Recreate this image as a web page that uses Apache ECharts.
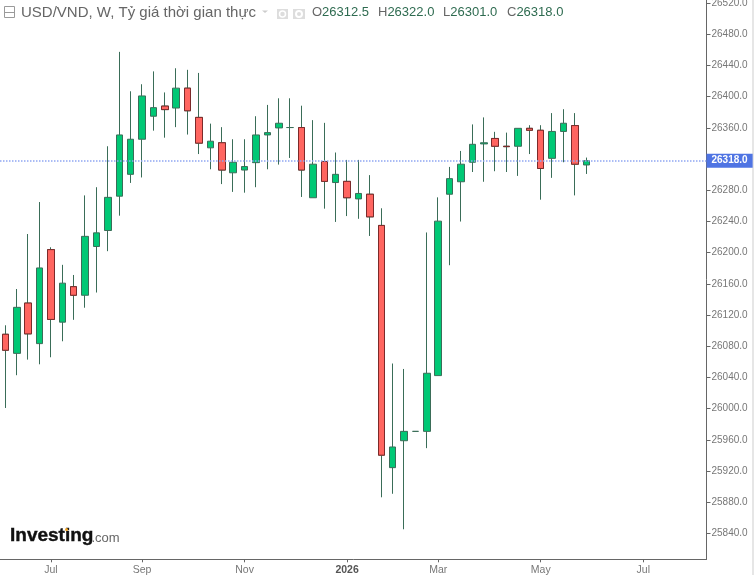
<!DOCTYPE html>
<html>
<head>
<meta charset="utf-8">
<style>html,body{margin:0;padding:0;background:#fff}#chart{width:754px;height:575px}</style>
<script src="https://cdn.jsdelivr.net/npm/echarts@6/dist/echarts.min.js"></script>
</head>
<body>
<div id="chart"></div>
<script>
// Weekly USD/VND candles, oldest first
const opens = [26095.5,26071,26135.5,26083.5,26204,26111,26156.5,26145.5,26208,26228.5,26272.5,26300.5,26345.5,26375,26388,26385.5,26411,26373.5,26334.5,26341,26302.5,26306,26315.5,26351,26360,26360.5,26360.5,26270.5,26317,26290,26291.5,26269,26275,26235,25924.5,25959,25971,25971,26042.5,26275,26291,26316,26339.5,26346.5,26336.5,26336.5,26359.5,26357,26321,26355.5,26363,26312.5];
const closes = [26075,26130,26096,26180.5,26114.5,26161,26145.5,26221,26225.5,26271,26351,26345.5,26401,26386,26383.5,26411,26382,26340.5,26343,26306,26316,26310.5,26351,26354,26366,26360.5,26306,26313.5,26291.5,26300.5,26270.5,26276,26246,25940.5,25951,25971,25971,26045.5,26240.5,26295,26313.5,26339,26341,26336.5,26336,26359.5,26357,26308,26355.5,26366,26313.5,26318];
const lows = [26001,26043,26063,26057,26066,26086.5,26114,26129.5,26149,26202,26247.5,26289.5,26296.5,26356.5,26347.5,26361,26351.5,26326.5,26307,26288,26278,26277,26284,26307,26313,26321.5,26271.5,26270.5,26256.5,26239.5,26247,26243.5,26221.5,25886.5,25891,25845.5,25971,25949.5,26042.5,26184,26240,26303.5,26291,26304.5,26303.5,26298.5,26326.5,26268,26296,26316,26273.5,26301];
const highs = [26107,26153.5,26224,26265,26207,26184.5,26171.5,26273.5,26284,26336.5,26457.5,26407,26416,26432.5,26405.5,26436.5,26434.5,26430.5,26365.5,26361,26345.5,26345.5,26375,26389.5,26398,26398,26388.5,26370,26366.5,26328.5,26319,26319,26299.5,26257,26058,26051,25971,26226,26271,26310,26330.5,26364.5,26373.5,26355,26354,26359.5,26363.5,26363.5,26379,26384,26379,26322];

// Month marks along the time axis, given as candle positions
const monthPositions = [4, 12, 21, 30, 38, 47, 56];
const monthLabels = ['Jul', 'Sep', 'Nov', '2026', 'Mar', 'May', 'Jul'];
const slotCount = 62;

const priceTicks = [26520,26480,26440,26400,26360,26280,26240,26200,26160,26120,26080,26040,26000,25960,25920,25880,25840];
const priceMin = 25807;
const priceMax = 26524;

const titleText = 'USD/VND, W, Tỷ giá thời gian thực';
const quoteLabels = ['O', 'H', 'L', 'C'];
const quoteValues = ['26312.5', '26322.0', '26301.0', '26318.0'];

const UP = '#00c875', DOWN = '#ff6560', WICK = '#3a6d58', DOWN_EDGE = '#7c2a2a';
const FONT = '"Liberation Sans", Arial, sans-serif';

const categories = [];
for (let i = 0; i < slotCount; i++) {
  const m = monthPositions.indexOf(i);
  categories.push(m >= 0 ? monthLabels[m] : '');
}
const candles = opens.map((o, i) => [o, closes[i], lows[i], highs[i]]);
// Falling bodies are redrawn on top so their outline can differ from the wicks
const downBodies = opens.map((o, i) => {
  const c = closes[i];
  return c < o ? [o, c, c, o] : '-';
});
const hasLabel = (i, v) => v !== '';
const last = closes[closes.length - 1];

const chart = echarts.init(document.getElementById('chart'), null, { renderer: 'canvas' });
chart.setOption({
  animation: false,
  backgroundColor: '#fff',
  grid: [
    { left: -0.3, width: 706.2, top: 0, height: 559.3, outerBoundsMode: 'none' },
    { left: 0, width: 706.5, top: 0, height: 559.3, outerBoundsMode: 'none' }
  ],
  xAxis: [
    {
      type: 'category', gridIndex: 0, data: categories, boundaryGap: true,
      axisLine: { show: false },
      axisTick: { show: true, alignWithLabel: true, interval: hasLabel, length: 3, lineStyle: { color: '#666' } },
      axisLabel: {
        interval: hasLabel, hideOverlap: false, margin: 5, fontFamily: FONT, fontSize: 10.5, color: '#777',
        formatter: v => v === '2026' ? '{y|2026}' : v,
        rich: { y: { fontFamily: FONT, fontSize: 10.5, fontWeight: 'bold', color: '#555' } }
      },
      splitLine: { show: false }
    },
    {
      type: 'value', gridIndex: 1, min: 0, max: 1,
      axisLine: { show: true, onZero: false, lineStyle: { color: '#666', width: 1 } },
      axisTick: { show: false }, axisLabel: { show: false }, splitLine: { show: false }
    }
  ],
  yAxis: [
    { type: 'value', gridIndex: 0, min: priceMin, max: priceMax, show: false, scale: true },
    {
      type: 'value', gridIndex: 1, min: priceMin, max: priceMax, position: 'right', scale: true,
      axisLine: { show: true, onZero: false, lineStyle: { color: '#666', width: 1 } },
      axisTick: { show: true, length: 4, customValues: priceTicks, lineStyle: { color: '#666' } },
      axisLabel: {
        customValues: priceTicks, margin: 5, fontFamily: FONT, fontSize: 10, color: '#777', padding: [2, 0, 0, 0],
        formatter: v => Number(v).toFixed(1)
      },
      splitLine: { show: false }
    }
  ],
  series: [
    {
      name: 'USD/VND', type: 'candlestick', xAxisIndex: 0, yAxisIndex: 0, data: candles, barWidth: 7,
      itemStyle: { color: UP, color0: DOWN, borderColor: WICK, borderColor0: WICK, borderWidth: 1 }
    },
    {
      name: 'Falling', type: 'candlestick', xAxisIndex: 0, yAxisIndex: 0, data: downBodies, barWidth: 7,
      itemStyle: { color: UP, color0: DOWN, borderColor: DOWN_EDGE, borderColor0: DOWN_EDGE, borderWidth: 1 }
    },
    {
      name: 'Last price', type: 'line', xAxisIndex: 1, yAxisIndex: 1, data: [], z: 5,
      markLine: {
        silent: true, symbol: 'none', animation: false,
        lineStyle: { type: 'dotted', color: '#8fa6f2', width: 1.5, opacity: 1 },
        label: {
          position: 'end', distance: 0, formatter: last.toFixed(1), fontFamily: FONT, fontSize: 10, fontWeight: 'bold',
          color: '#fff', backgroundColor: '#4f74e3', padding: [2, 5, 1, 5], lineHeight: 11
        },
        data: [{ yAxis: last }]
      }
    }
  ],
  graphic: [
    // Collapse box beside the title
    { type: 'rect', shape: { x: 4.5, y: 6.5, width: 10, height: 11 }, style: { fill: '#fff', stroke: '#9a9a9a', lineWidth: 1 } },
    { type: 'line', shape: { x1: 5, y1: 12.5, x2: 14, y2: 12.5 }, style: { stroke: '#9a9a9a', lineWidth: 1 } },
    { type: 'text', x: 21, y: 5, style: { text: titleText, fontFamily: FONT, fontSize: 15, fill: '#666' } },
    { type: 'polygon', shape: { points: [[262, 10.5], [268, 10.5], [265, 13]] }, style: { fill: '#ccc' } },
    // Visibility and settings buttons
    { type: 'rect', shape: { x: 277, y: 9, width: 11, height: 10 }, style: { fill: '#ddd' } },
    { type: 'circle', shape: { cx: 282.5, cy: 14, r: 3 }, style: { fill: '#ddd', stroke: '#fff', lineWidth: 1.5 } },
    { type: 'rect', shape: { x: 293, y: 9, width: 12, height: 10 }, style: { fill: '#ddd' } },
    { type: 'circle', shape: { cx: 299, cy: 14, r: 3 }, style: { fill: '#ddd', stroke: '#fff', lineWidth: 2 } },
    // Open, high, low and close readout
    ...quoteLabels.map((q, i) => ({
      type: 'text', x: [312, 378, 443, 507][i], y: 6,
      style: {
        text: '{k|' + q + '}{v|' + quoteValues[i] + '}',
        rich: {
          k: { fontFamily: FONT, fontSize: 13, fill: '#666' },
          v: { fontFamily: FONT, fontSize: 13, fill: '#2e6b50' }
        }
      }
    })),
    // Wordmark
    { type: 'text', x: 10, y: 526, style: { text: 'Investing', fontFamily: FONT, fontSize: 19, fontWeight: 'bold', fill: '#111', stroke: '#111', lineWidth: 0.4 } },
    { type: 'text', x: 91.5, y: 532, style: { text: '.com', fontFamily: FONT, fontSize: 13, fill: '#666' } },
    { type: 'circle', shape: { cx: 66.5, cy: 529.5, r: 1.5 }, style: { fill: '#f5a623' } },
    // Panel edge
    { type: 'rect', shape: { x: 752, y: 0, width: 2, height: 575 }, style: { fill: '#e6e6e6' } }
  ]
});
</script>
</body>
</html>
